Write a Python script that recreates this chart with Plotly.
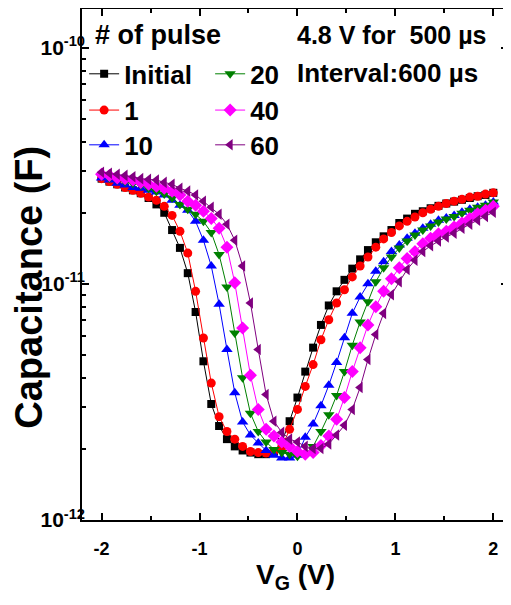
#!/usr/bin/env python3
"""C-V curves after repeated 4.8 V / 500 us pulses (log capacitance vs gate voltage)."""

import plotly.graph_objects as go

# gate voltage sweep, -2 V .. 2 V in 0.08 V steps
vg = [round(-2 + 0.08 * i, 2) for i in range(51)]

# capacitance, in pF
c_initial = [
    27.9, 27.1, 26.4, 25.6, 24.9, 24.2, 23.1, 21.7, 20.0, 16.9,
    14.2, 11.1, 7.6, 4.7, 3.1, 2.5, 2.2, 2.05, 1.97, 1.93,
    1.90, 1.90, 1.95, 2.14, 2.62, 3.30, 4.25, 5.37, 6.7, 8.1,
    9.3, 10.4, 11.6, 12.7, 13.9, 15.0, 15.9, 16.9, 18.1, 18.9,
    19.8, 20.3, 20.9, 21.4, 21.9, 22.3, 22.7, 23.1, 23.5, 23.8, 24.3,
]
c_p1 = [
    27.9, 27.1, 26.4, 25.6, 24.9, 24.2, 23.3, 22.6, 21.3, 19.5,
    16.7, 13.5, 9.3, 5.9, 3.8, 2.74, 2.37, 2.20, 2.05, 1.95,
    1.93, 1.92, 1.95, 2.03, 2.42, 2.94, 3.68, 4.55, 5.80, 7.05,
    8.3, 9.44, 10.7, 11.9, 13.0, 14.3, 15.5, 16.5, 17.6, 18.4,
    19.2, 20.0, 20.7, 21.3, 21.9, 22.4, 22.8, 23.3, 23.5, 24.0, 24.3,
]
c_p10 = [
    28.1, 27.5, 26.7, 26.2, 25.6, 25.4, 24.9, 24.5, 23.8, 22.6,
    21.5, 20.5, 18.4, 15.3, 11.9, 8.2, 5.27, 3.46, 2.60, 2.29,
    2.12, 1.97, 1.88, 1.83, 1.83, 1.88, 2.24, 2.55, 3.05, 3.72,
    4.65, 5.91, 7.5, 8.8, 10.0, 11.3, 12.4, 13.7, 14.6, 15.6,
    16.4, 17.2, 17.9, 18.6, 19.0, 19.5, 20.1, 20.7, 21.1, 21.5, 22.2,
]
c_p20 = [
    28.8, 28.1, 27.5, 27.1, 26.7, 26.2, 25.4, 24.7, 24.0, 23.1,
    21.7, 20.7, 19.7, 18.4, 16.5, 13.3, 9.7, 6.2, 4.0, 2.83,
    2.37, 2.14, 1.99, 1.93, 1.90, 1.86, 1.90, 2.05, 2.37, 2.79,
    3.37, 4.25, 5.5, 6.9, 8.4, 10.2, 11.7, 13.0, 14.2, 15.2,
    16.1, 16.9, 17.6, 18.3, 18.8, 19.3, 19.9, 20.5, 21.1, 21.5, 22.2,
]
c_p40 = [
    29.1, 28.8, 28.1, 27.9, 27.5, 26.9, 26.4, 25.9, 25.4, 24.7,
    23.8, 22.4, 21.5, 20.3, 18.9, 17.2, 14.3, 10.1, 6.5, 4.1,
    2.94, 2.42, 2.27, 2.14, 2.05, 1.95, 1.90, 1.93, 2.07, 2.27,
    2.67, 3.30, 4.25, 5.37, 6.7, 8.0, 9.3, 10.5, 11.7, 12.8,
    13.7, 14.8, 15.6, 16.3, 16.7, 17.4, 18.1, 18.9, 19.8, 20.5, 21.3,
]
c_p60 = [
    29.7, 29.4, 29.1, 28.8, 28.4, 27.9, 27.7, 27.5, 26.9, 26.4,
    25.4, 24.7, 23.8, 22.4, 21.1, 19.7, 17.9, 15.3, 11.9, 8.3,
    5.27, 3.40, 2.62, 2.35, 2.20, 2.14, 2.05, 2.01, 2.01, 2.10,
    2.29, 2.52, 2.94, 3.64, 4.78, 6.1, 7.5, 9.0, 10.2, 11.5,
    12.6, 13.7, 14.5, 15.2, 15.8, 16.4, 17.2, 17.9, 18.6, 19.3, 20.1,
]

names = ["Initial", "1", "10", "20", "40", "60"]
series = [c_initial, c_p1, c_p10, c_p20, c_p40, c_p60]
colors = ["#000000", "#ff0000", "#0000ff", "#008000", "#ff00ff", "#800080"]
symbols = ["square", "circle", "triangle-up", "triangle-down", "diamond", "triangle-left"]
sizes = [8, 9, 10, 10, 10, 10]
# legend rows: (Initial, 20), (1, 40), (10, 60)
legend_of = ["legend", "legend2", "legend3", "legend", "legend2", "legend3"]

FONT = "Liberation Sans, Arial, sans-serif"

fig = go.Figure()
for name, vals, col, sym, sz, lg in zip(names, series, colors, symbols, sizes, legend_of):
    fig.add_trace(go.Scatter(
        x=vg,
        y=[v * 1e-12 for v in vals],
        mode="lines+markers",
        name=name,
        legend=lg,
        line=dict(color=col, width=1),
        marker=dict(symbol=sym, size=sz, color=col, line=dict(width=0)),
    ))

leg_common = dict(
    orientation="h", xanchor="left", yanchor="middle",
    bgcolor="rgba(0,0,0,0)", borderwidth=0,
    font=dict(family=FONT, size=26, color="black", weight="bold"),
    entrywidth=81, entrywidthmode="pixels",
    itemsizing="trace", tracegroupgap=0,
)

# page body adds an 8 px offset, so the figure is sized to the visible area
fig.update_layout(
    width=503, height=597,
    margin=dict(l=74, r=3, t=1, b=85, autoexpand=False),
    paper_bgcolor="white", plot_bgcolor="white",
    font=dict(family=FONT, color="black"),
    showlegend=True,
    legend=dict(x=0.005, y=0.873, **leg_common),
    legend2=dict(x=0.005, y=0.802, **leg_common),
    legend3=dict(x=0.005, y=0.734, **leg_common),
)

fig.update_xaxes(
    range=[-2.2, 2.15],
    tickvals=[-2, -1, 0, 1, 2],
    ticktext=["-2", "-1", "0", "1", "2"],
    ticks="inside", ticklen=7, tickwidth=1.5, tickcolor="black",
    minor=dict(tickvals=[-1.5, -0.5, 0.5, 1.5], ticks="inside", ticklen=4,
               tickwidth=1.5, tickcolor="black"),
    showline=True, linewidth=1.5, linecolor="black", mirror="ticks",
    showgrid=False, zeroline=False,
    tickfont=dict(family=FONT, size=18, weight="bold"),
    ticklabelstandoff=12,
)

minor_y = [k * 10.0 ** e for e in (-12, -11, -10) for k in range(2, 10)]
fig.update_yaxes(
    type="log",
    range=[-12, -9.836],
    tickvals=[1e-12, 1e-11, 1e-10],
    ticktext=["10<sup>-12</sup>", "10<sup>-11</sup>", "10<sup>-10</sup>"],
    ticks="inside", ticklen=7, tickwidth=1.5, tickcolor="black",
    minor=dict(tickvals=minor_y, ticks="inside", ticklen=4,
               tickwidth=1.5, tickcolor="black"),
    showline=True, linewidth=1.5, linecolor="black", mirror="ticks",
    showgrid=False, zeroline=False,
    tickfont=dict(family=FONT, size=21, weight="bold"),
    ticklabelstandoff=-9,
)

fig.add_annotation(
    text="Capacitance (F)", textangle=-90,
    xref="paper", yref="paper", x=-0.125, y=0.456,
    xanchor="center", yanchor="middle", showarrow=False,
    font=dict(family=FONT, size=38, weight="bold"),
)
fig.add_annotation(
    text="V<sub>G</sub> (V)",
    xref="paper", yref="paper", x=0.5, y=-0.11,
    xanchor="center", yanchor="middle", showarrow=False,
    font=dict(family=FONT, size=28, weight="bold"),
)
fig.add_annotation(
    text="# of pulse",
    xref="paper", yref="paper", x=0.025, y=0.95,
    xanchor="left", yanchor="middle", showarrow=False,
    font=dict(family=FONT, size=27, weight="bold"),
)
fig.add_annotation(
    text="4.8 V for  500 µs",
    xref="paper", yref="paper", x=0.5, y=0.95,
    xanchor="left", yanchor="middle", showarrow=False,
    font=dict(family=FONT, size=25, weight="bold"),
)
fig.add_annotation(
    text="Interval:600 µs",
    xref="paper", yref="paper", x=0.5, y=0.875,
    xanchor="left", yanchor="middle", showarrow=False,
    font=dict(family=FONT, size=26, weight="bold"),
)

fig.write_html("out.html")
